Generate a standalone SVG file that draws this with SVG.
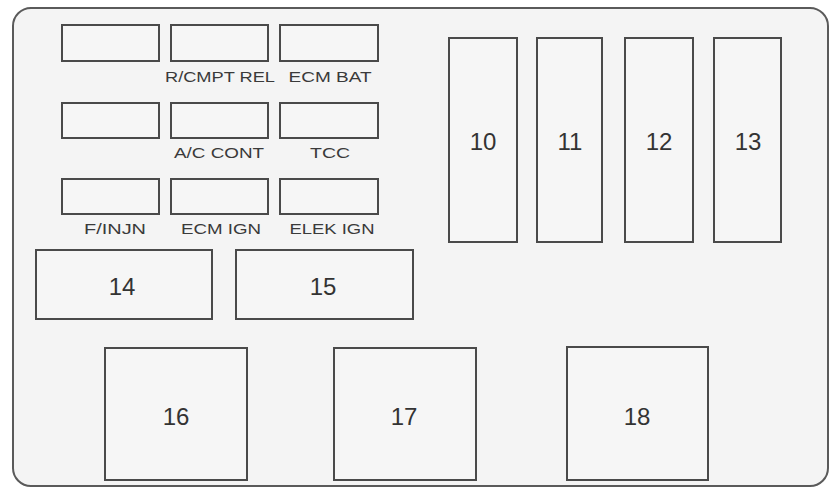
<svg xmlns="http://www.w3.org/2000/svg" width="834" height="492" viewBox="0 0 834 492">
<style>
.f{fill:#f6f6f6;stroke:#4a4a4a;stroke-width:2}
.l{font-family:"Liberation Sans",Arial,sans-serif;font-size:15px;fill:#3a3a3a;text-anchor:middle}
.n{font-family:"Liberation Sans",Arial,sans-serif;font-size:24px;fill:#333;text-anchor:middle;dominant-baseline:central}
</style>
<rect x="0" y="0" width="834" height="492" fill="#ffffff"/>
<rect id="frame" x="13" y="8" width="815" height="478" rx="18" fill="#f4f4f4" stroke="#5a5a5a" stroke-width="2"/>
<g id="fuse1"><rect class="f" x="62" y="25" width="97" height="36"/></g>
<g id="fuse2"><rect class="f" x="171" y="25" width="97" height="36"/><text class="l" x="220" y="82" textLength="110" lengthAdjust="spacingAndGlyphs">R/CMPT REL</text></g>
<g id="fuse3"><rect class="f" x="280" y="25" width="98" height="36"/><text class="l" x="330" y="82" textLength="83" lengthAdjust="spacingAndGlyphs">ECM BAT</text></g>
<g id="fuse4"><rect class="f" x="62" y="103" width="97" height="35"/></g>
<g id="fuse5"><rect class="f" x="171" y="103" width="97" height="35"/><text class="l" x="219" y="158" textLength="90" lengthAdjust="spacingAndGlyphs">A/C CONT</text></g>
<g id="fuse6"><rect class="f" x="280" y="103" width="98" height="35"/><text class="l" x="330" y="158" textLength="40" lengthAdjust="spacingAndGlyphs">TCC</text></g>
<g id="fuse7"><rect class="f" x="62" y="179" width="97" height="35"/><text class="l" x="115" y="234" textLength="62" lengthAdjust="spacingAndGlyphs">F/INJN</text></g>
<g id="fuse8"><rect class="f" x="171" y="179" width="97" height="35"/><text class="l" x="221" y="234" textLength="80" lengthAdjust="spacingAndGlyphs">ECM IGN</text></g>
<g id="fuse9"><rect class="f" x="280" y="179" width="98" height="35"/><text class="l" x="332" y="234" textLength="85" lengthAdjust="spacingAndGlyphs">ELEK IGN</text></g>
<g id="r10"><rect class="f" x="449" y="38" width="68" height="204"/><text class="n" x="483" y="141">10</text></g>
<g id="r11"><rect class="f" x="537" y="38" width="65" height="204"/><text class="n" x="570" y="141">11</text></g>
<g id="r12"><rect class="f" x="625" y="38" width="68" height="204"/><text class="n" x="659" y="141">12</text></g>
<g id="r13"><rect class="f" x="714" y="38" width="67" height="204"/><text class="n" x="748" y="141">13</text></g>
<g id="r14"><rect class="f" x="36" y="250" width="176" height="69"/><text class="n" x="122" y="286">14</text></g>
<g id="r15"><rect class="f" x="236" y="250" width="177" height="69"/><text class="n" x="323" y="286">15</text></g>
<g id="r16"><rect class="f" x="105" y="348" width="142" height="132"/><text class="n" x="176" y="416">16</text></g>
<g id="r17"><rect class="f" x="334" y="348" width="142" height="132"/><text class="n" x="404" y="416">17</text></g>
<g id="r18"><rect class="f" x="567" y="347" width="141" height="133"/><text class="n" x="637" y="416">18</text></g>
<g id="connectors"/>
</svg>
